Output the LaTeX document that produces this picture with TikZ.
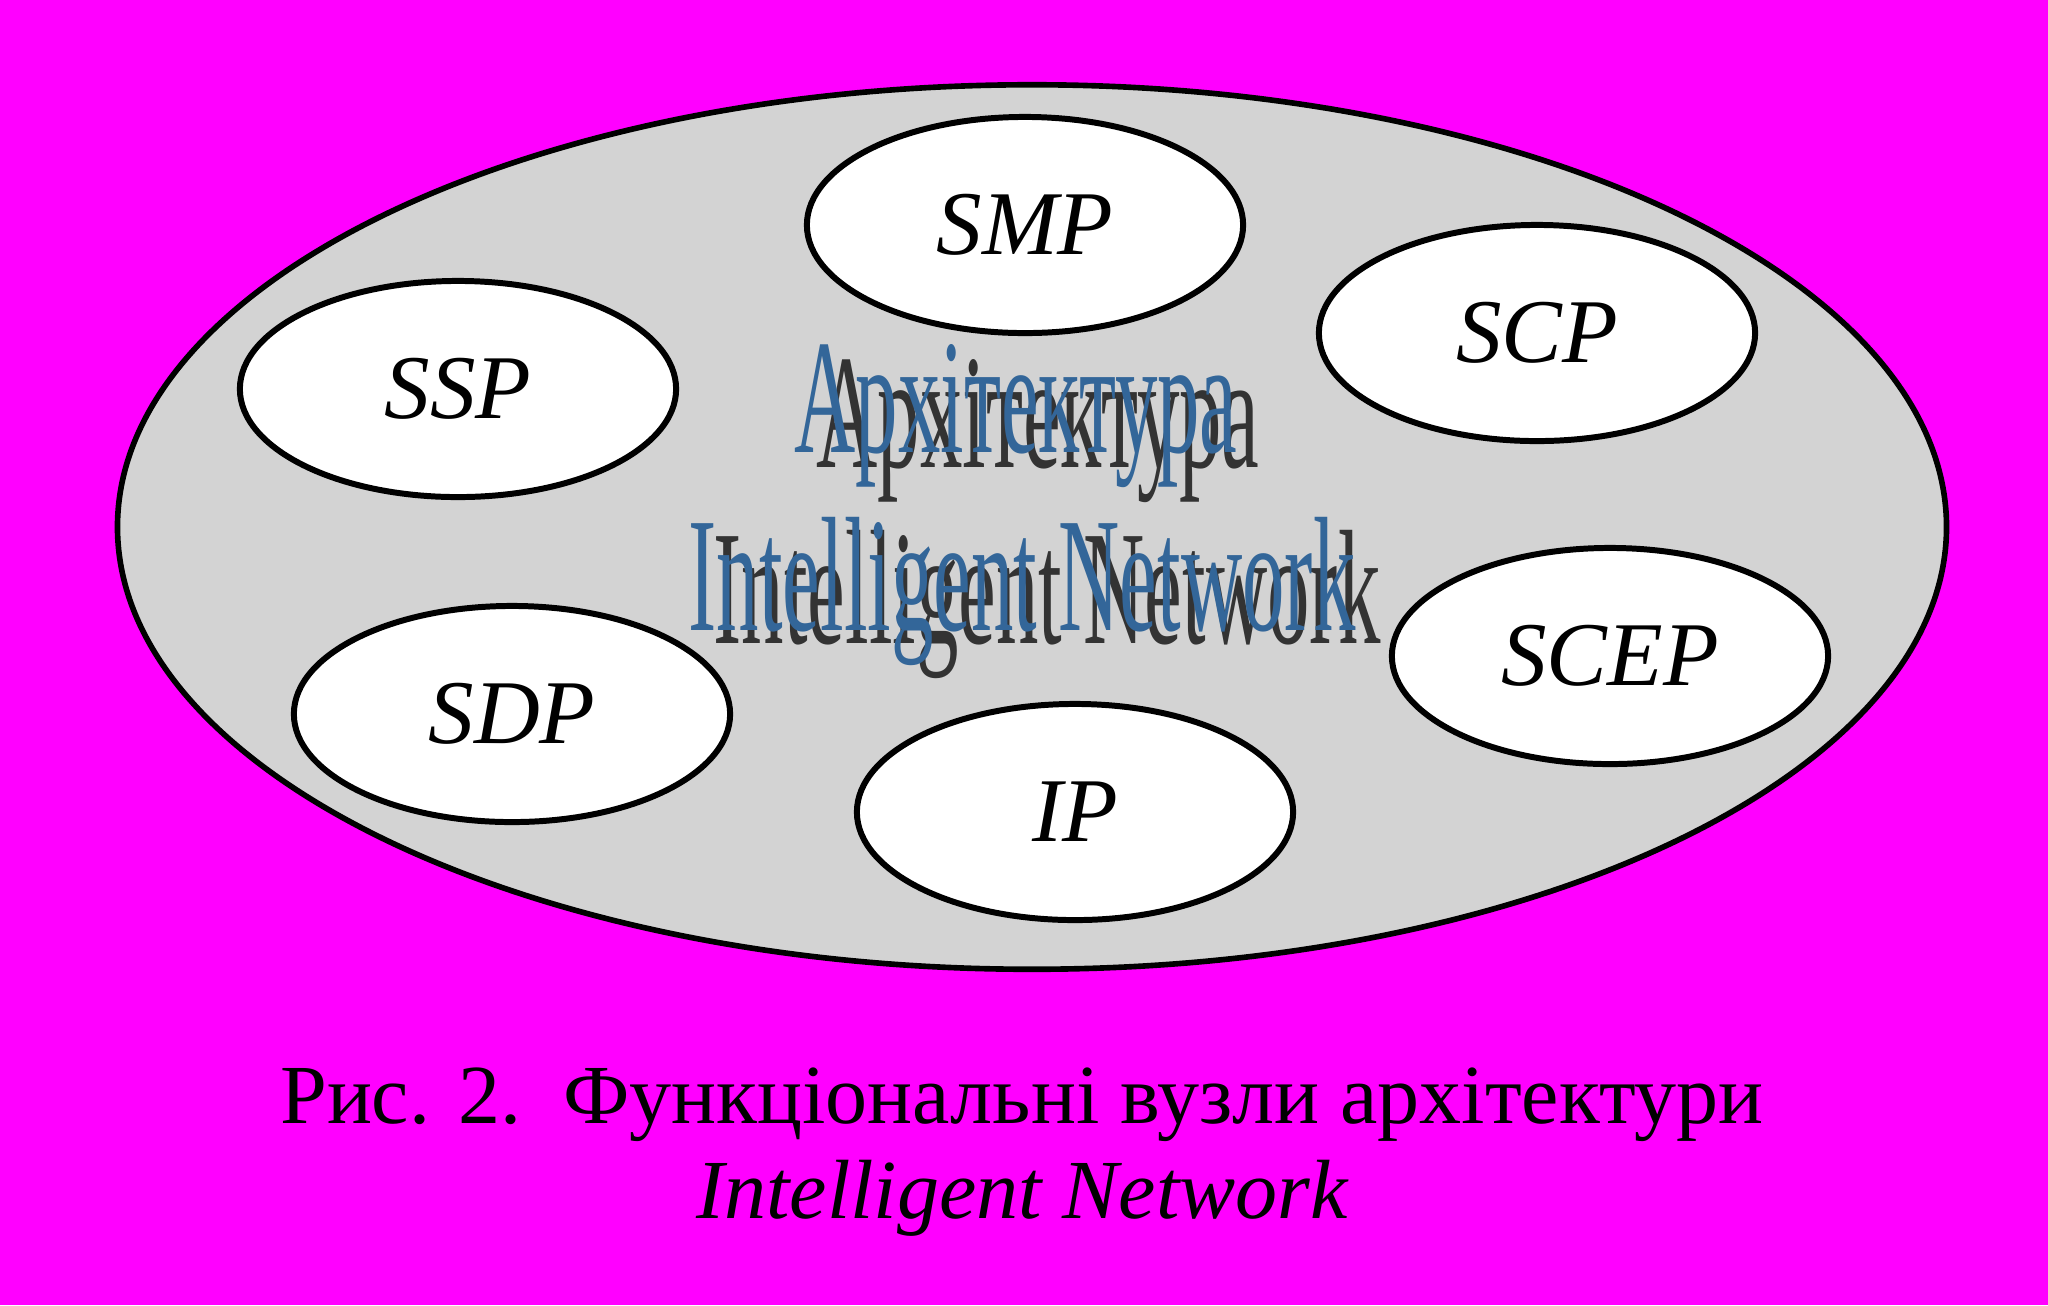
\documentclass[tikz,border=0pt]{standalone}
\usepackage{fontspec}
\setmainfont{Liberation Serif}
\usetikzlibrary{shapes.geometric}
\definecolor{xmagenta}{HTML}{FF00FF}
\definecolor{xgray}{HTML}{D3D3D3}
\definecolor{xblue}{HTML}{336699}
\definecolor{xdark}{HTML}{333333}
\tikzset{
	unit/.style={ellipse, draw=black, fill=white, line width=1.7pt, minimum width=4.36cm, minimum height=2.16cm, inner sep=0pt, font=\fontsize{25.9}{30}\selectfont\itshape},
	title/.style={anchor=base, font=\fontsize{46.4}{50}\selectfont},
	caption/.style={anchor=base, font=\fontsize{23.9}{28}\selectfont},
}
\newcommand{\narrow}[1]{\scalebox{0.52}[1]{#1}}

\begin{document}
\begin{tikzpicture}[x=0.01cm, y=-0.01cm]
% Background
		\fill[xmagenta] (0,0) rectangle (2048,1305);

% Architecture
		\filldraw[fill=xgray, draw=black, line width=1.6pt] (1032,527) circle (9.14cm and 4.42cm);

		\node[title, text=xdark] (T1) at (1038,467) {\narrow{Архітектура}};
		\node[title, text=xdark] (T2) at (1047,643) {\narrow{Intelligent Network}};
		\node[title, text=xblue] (T1b) at (1016,452) {\narrow{Архітектура}};
		\node[title, text=xblue] (T2b) at (1022,630) {\narrow{Intelligent Network}};

		\node[unit] (SMP) at (1025,225) {SMP};
		\node[unit] (SCP) at (1537,333) {SCP};
		\node[unit] (SSP) at (458,389) {SSP};
		\node[unit] (SCEP) at (1610,656) {SCEP};
		\node[unit] (SDP) at (512,714) {SDP};
		\node[unit] (IP) at (1075,812) {IP};

% Caption
		\node[caption] (C1) at (1022,1123) {Рис. 2.\ \ Функціональні вузли архітектури};
		\node[caption] (C2) at (1022,1218) {\itshape Intelligent Network};
	\end{tikzpicture}
\end{document}
